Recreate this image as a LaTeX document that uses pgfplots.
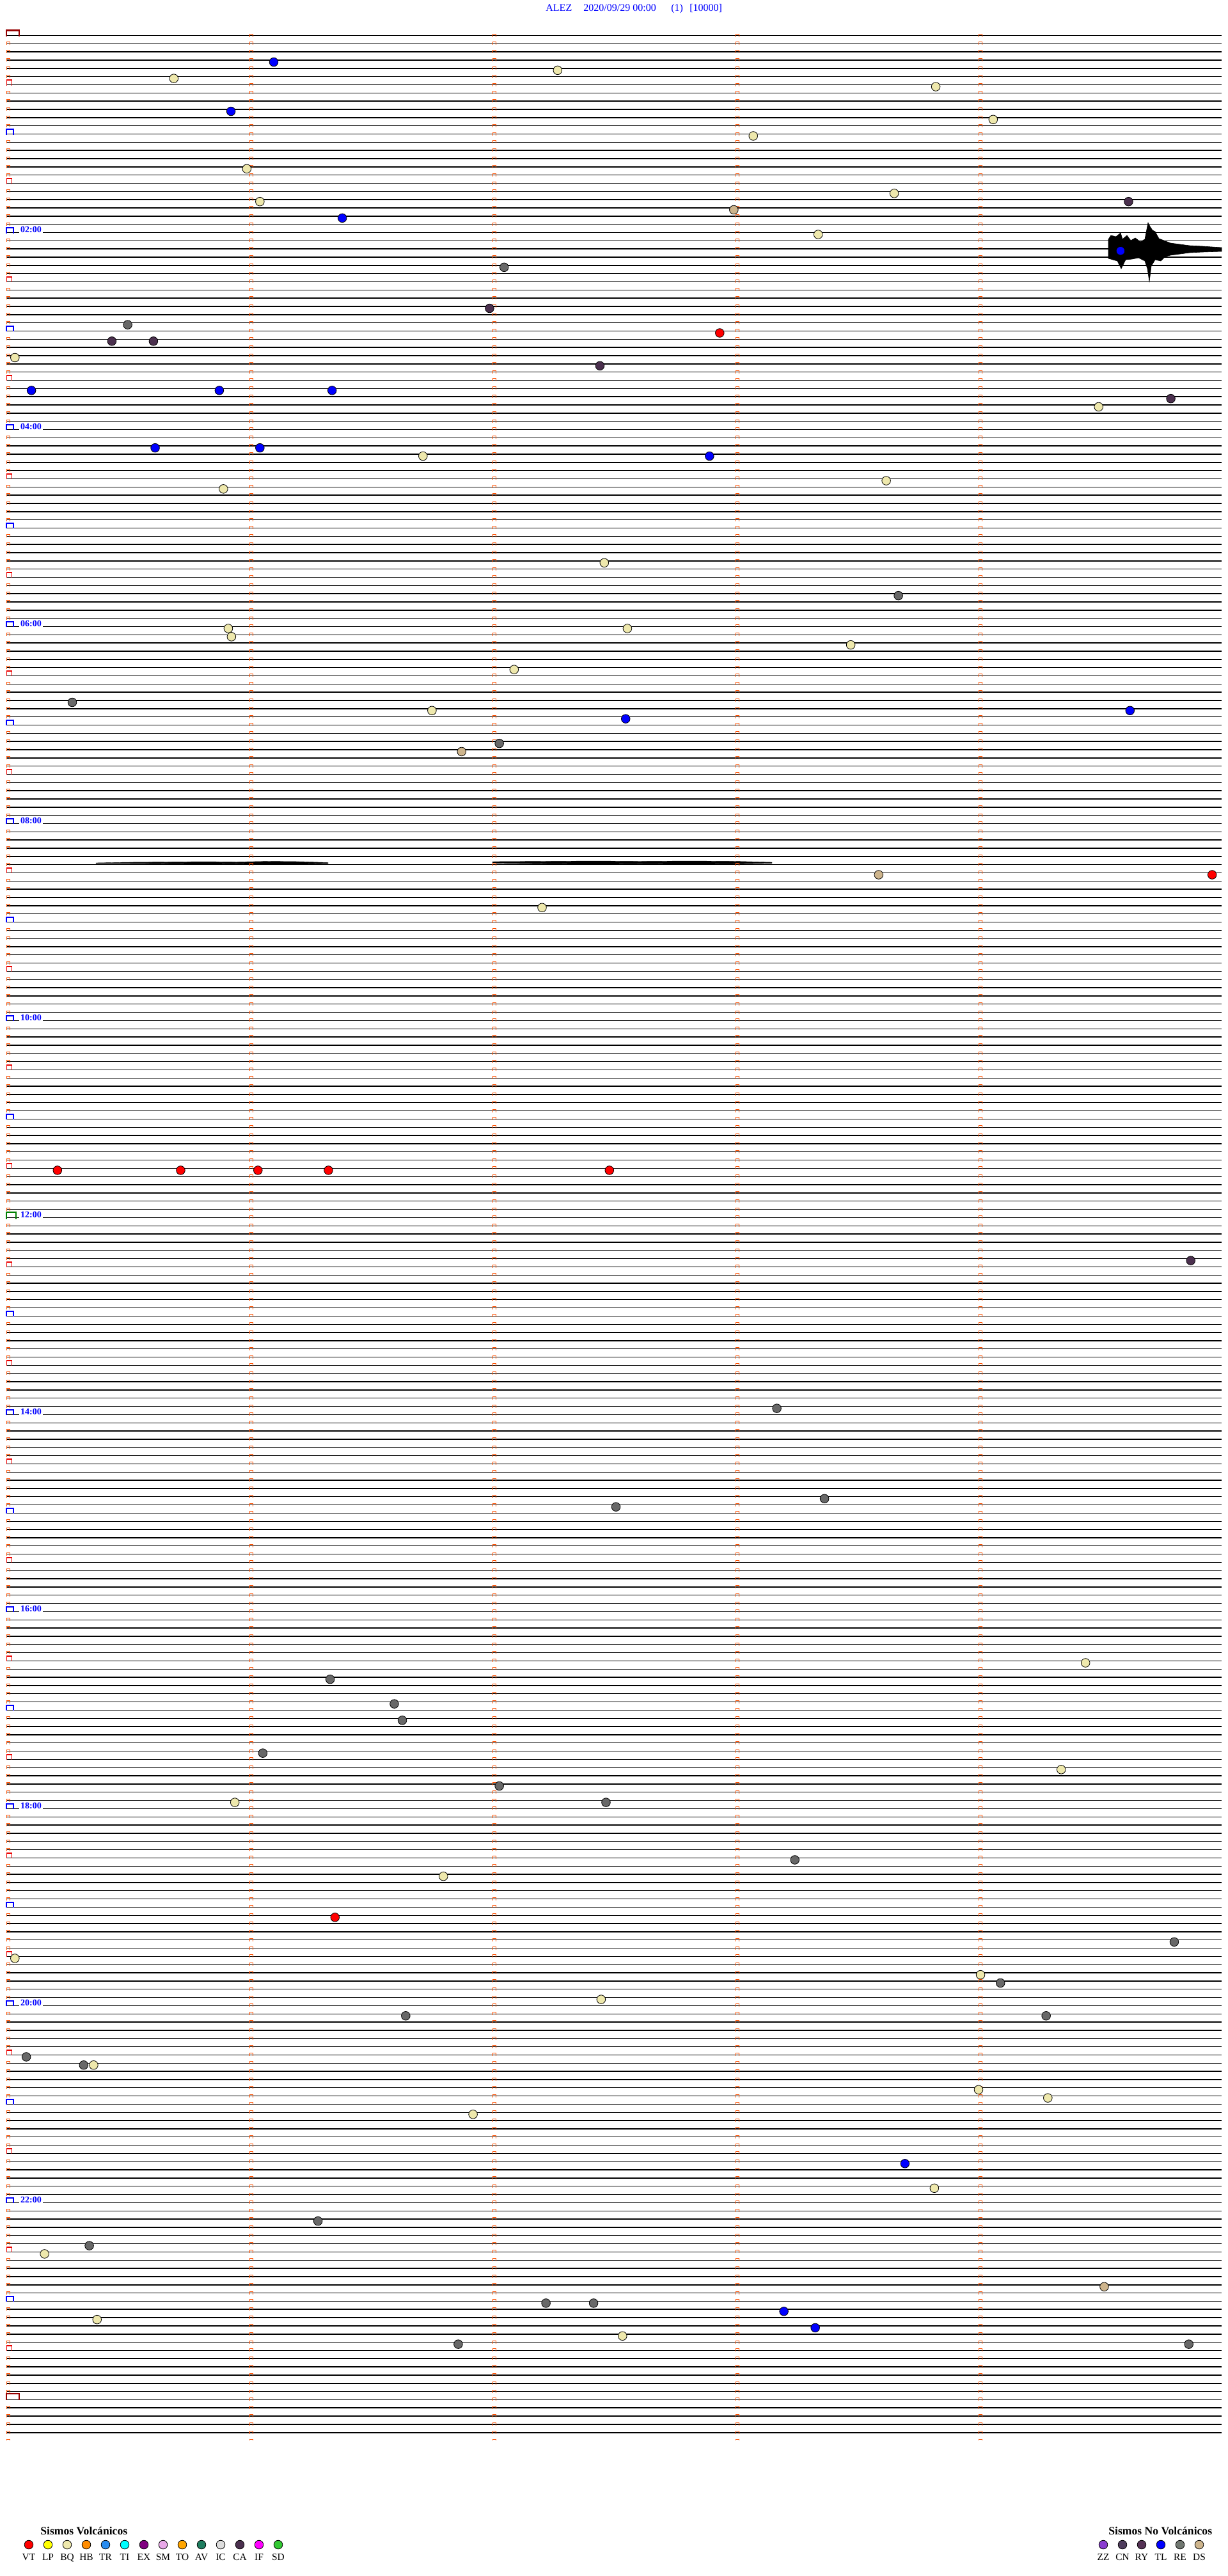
\documentclass[border=0pt]{standalone}
\usepackage{pgfplots}
\pgfplotsset{compat=1.18}
\usepackage{pgfplotstable}
\usepackage{fontspec}
\setmainfont{Liberation Serif}
\definecolor{cVT}{RGB}{255,0,0}
\definecolor{cLP}{RGB}{255,255,0}
\definecolor{cBQ}{RGB}{238,232,172}
\definecolor{cHB}{RGB}{255,140,0}
\definecolor{cTR}{RGB}{40,140,240}
\definecolor{cTI}{RGB}{0,255,255}
\definecolor{cEX}{RGB}{128,0,128}
\definecolor{cSM}{RGB}{232,168,232}
\definecolor{cTO}{RGB}{255,165,0}
\definecolor{cAV}{RGB}{30,125,95}
\definecolor{cIC}{RGB}{220,220,220}
\definecolor{cCA}{RGB}{75,48,78}
\definecolor{cIF}{RGB}{255,0,255}
\definecolor{cSD}{RGB}{50,200,50}
\definecolor{cZZ}{RGB}{138,60,208}
\definecolor{cCN}{RGB}{78,60,92}
\definecolor{cRY}{RGB}{85,50,85}
\definecolor{cTL}{RGB}{0,0,255}
\definecolor{cRE}{RGB}{112,118,112}
\definecolor{cREc}{RGB}{104,104,104}
\definecolor{cDS}{RGB}{205,180,140}
\definecolor{mk}{RGB}{255,80,0}
\definecolor{hr}{RGB}{0,0,255}
\definecolor{hh}{RGB}{235,0,0}
\definecolor{dd}{RGB}{150,0,0}
\definecolor{gg}{RGB}{0,128,0}

% events: m = minute within the 5-minute row, k = row (0 = 00:00, 12 rows per hour)
\pgfplotstableread{
m k
2.935 36
4.961 102
0.210 138
0.717 138
1.035 138
1.325 138
2.481 138
1.352 229
}\VT
\pgfplotstableread{
m k
2.268 4
0.689 5
3.824 6
4.060 10
3.073 12
0.989 16
3.653 19
1.043 20
3.340 24
0.035 39
4.494 45
1.714 51
3.620 54
0.893 55
2.460 64
2.555 72
0.913 72
0.926 73
3.474 74
2.089 77
1.751 82
2.204 106
4.440 198
4.340 211
0.940 215
1.798 224
0.035 234
4.008 236
2.447 239
0.359 247
4.000 250
4.285 251
1.920 253
3.818 262
0.157 270
0.373 278
2.535 280
}\BQ
\pgfplotstableread{
m k
1.100 3
0.924 9
1.382 22
4.584 26
0.103 43
0.876 43
1.340 43
0.612 50
1.043 50
2.893 51
4.623 82
2.548 83
3.697 259
3.199 277
3.328 279
}\TL
\pgfplotstableread{
m k
2.048 28
0.499 35
3.670 68
0.271 81
2.028 86
3.170 167
3.366 178
2.508 179
1.332 200
1.596 203
1.629 205
1.055 209
2.028 213
2.467 215
3.244 222
4.805 232
4.090 237
1.643 241
4.278 241
0.082 246
0.318 247
1.282 266
0.341 269
2.220 276
2.416 276
1.859 281
4.865 281
}\RE
\pgfplotstableread{
m k
4.617 20
1.988 33
0.434 37
0.605 37
2.442 40
4.791 44
4.873 149
}\CA
\pgfplotstableread{
m k
2.993 21
1.873 87
3.589 102
4.517 274
}\DS

% trace baselines (one per 5-minute row)
\def\traceN{}
\foreach \k in {0,...,107}{\pgfmathsetmacro\yy{55.5+12.833*\k}\xdef\traceN{\traceN (10,\yy) (1910,\yy) (1910,nan)}}
\foreach \k in {272,...,292}{\pgfmathsetmacro\yy{55.5+12.833*\k}\xdef\traceN{\traceN (10,\yy) (1910,\yy) (1910,nan)}}
\def\traceF{}
\foreach \k in {108,...,271}{\pgfmathsetmacro\yy{55.5+12.833*\k}\xdef\traceF{\traceF (10,\yy) (1910,\yy) (1910,nan)}}

\begin{document}
\begin{tikzpicture}
\begin{axis}[
  scale only axis, width=960pt, height=2013.5pt,
  xmin=0, xmax=1920, ymin=0, ymax=4027, y dir=reverse,
  axis lines=none, clip=false, unbounded coords=jump,
  every axis plot/.append style={forget plot},
  circ/.style={only marks, mark=*, mark size=3.4pt, mark options={draw=black, line width=0.4pt}},
]
\coordinate (BL) at (axis cs:0,4027);
\coordinate (TR) at (axis cs:1920,0);

% traces
\edef\cmd{\noexpand\addplot[black, line width=0.8pt] coordinates {\traceN};}\cmd
\edef\cmd{\noexpand\addplot[black, line width=0.65pt] coordinates {\traceF};}\cmd

% seismic event around 02:10
\addplot[black, fill=black, line width=0.3pt] coordinates {
(1733,374) (1737,368) (1745,370) (1752,364) (1755,374) (1762,368) (1768,376) (1775,372) (1783,378) (1790,374) (1795,348) (1798,354) (1802,360) (1806,362) (1812,373) (1820,376) (1830,380) (1845,382) (1860,384) (1880,385) (1910,387)
(1910,393) (1880,394) (1860,395) (1845,397) (1830,399) (1822,401) (1815,408) (1806,406) (1800,416) (1797,440) (1794,420) (1790,408) (1780,403) (1770,405) (1760,406) (1753,420) (1747,408) (1740,406) (1733,404)} --cycle;
% noisy segments on row 101
\addplot[black, fill=black, line width=0.2pt] coordinates {
(150,1349) (200,1348) (260,1347.5) (320,1347) (370,1347.5) (420,1346.5) (470,1347) (513,1348.5)
(513,1350) (470,1351) (420,1351.5) (370,1350.5) (320,1351) (260,1350.5) (200,1350) (150,1350)} --cycle;
\addplot[black, fill=black, line width=0.2pt] coordinates {
(770,1347) (850,1346.5) (930,1346) (1000,1346.5) (1080,1346) (1150,1346.5) (1207,1348)
(1207,1349.5) (1150,1350.5) (1080,1351) (1000,1350.5) (930,1351) (850,1350.5) (770,1349.5)} --cycle;

% minute markers (orange inverted U at each minute, every row)
\foreach \xx in {390.3,770.3,1150.3,1530.3}{
  \pgfmathsetmacro\xb{\xx+5}\pgfmathsetmacro\xc{\xx+2.5}
  \edef\cmd{\noexpand\draw[mk, line width=0.5pt, dash pattern=on 2.5pt off 3.9165pt] (axis cs:\xx,52.5) -- (axis cs:\xx,3815);
  \noexpand\draw[mk, line width=0.5pt, dash pattern=on 2.5pt off 3.9165pt] (axis cs:\xb,52.5) -- (axis cs:\xb,3815);
  \noexpand\draw[mk, line width=3pt, dash pattern=on 0.5pt off 5.9165pt] (axis cs:\xc,52.5) -- (axis cs:\xc,3815);}\cmd
}
% left column small markers (skipping the half-hour rows)
\draw[mk, line width=0.5pt, dash pattern=on 2.5pt off 3.9165pt on 2.5pt off 3.9165pt on 2.5pt off 3.9165pt on 2.5pt off 3.9165pt on 2.5pt off 10.333pt] (axis cs:10.3,65.333) -- (axis cs:10.3,3815);
\draw[mk, line width=0.5pt, dash pattern=on 2.5pt off 3.9165pt on 2.5pt off 3.9165pt on 2.5pt off 3.9165pt on 2.5pt off 3.9165pt on 2.5pt off 10.333pt] (axis cs:15.3,65.333) -- (axis cs:15.3,3815);
\draw[mk, line width=3pt, dash pattern=on 0.5pt off 5.9165pt on 0.5pt off 5.9165pt on 0.5pt off 5.9165pt on 0.5pt off 5.9165pt on 0.5pt off 12.333pt] (axis cs:12.8,65.333) -- (axis cs:12.8,3815);

% half-hour brackets
\foreach \r in {6,18,...,282}{
  \pgfmathsetmacro\ya{55.5+12.833*\r+1}\pgfmathsetmacro\yb{55.5+12.833*\r-7.5}
  \edef\cmd{\noexpand\draw[hh, line width=0.7pt] (axis cs:10.3,\ya) -- (axis cs:10.3,\yb) -- (axis cs:18.7,\yb) -- (axis cs:18.7,\ya);}\cmd
}
% hour brackets
\foreach \r in {12,24,...,132,156,168,...,276}{
  \pgfmathsetmacro\ya{55.5+12.833*\r+1}\pgfmathsetmacro\yb{55.5+12.833*\r-7.5}
  \edef\cmd{\noexpand\draw[hr, line width=1pt] (axis cs:10,\ya) -- (axis cs:10,\yb) -- (axis cs:20.5,\yb) -- (axis cs:20.5,\ya);}\cmd
}
\draw[gg, line width=1pt] (axis cs:10,1906) -- (axis cs:10,1895) -- (axis cs:24.5,1895) -- (axis cs:24.5,1906);
\draw[dd, line width=1.3pt] (axis cs:10,57) -- (axis cs:10,47.5) -- (axis cs:30,47.5) -- (axis cs:30,57);
\draw[dd, line width=1.3pt] (axis cs:10,3752) -- (axis cs:10,3742) -- (axis cs:30,3742) -- (axis cs:30,3752);

% hour labels
\foreach \y/\t in {363.5/02:00,671.5/04:00,979.5/06:00,1287.5/08:00,1595.5/10:00,1903.5/12:00,2211.4/14:00,2519.4/16:00,2827.4/18:00,3135.4/20:00,3443.4/22:00}{
  \edef\cmd{\noexpand\node[anchor=base west, fill=white, inner xsep=1pt, inner ysep=0.6pt, text=hr, font=\noexpand\fontsize{7}{8}\noexpand\selectfont\noexpand\bfseries] at (axis cs:29.7,\y) {\t};}\cmd
}

% events
\addplot[circ, mark options={fill=cBQ}] table[x expr=10+380*\thisrow{m}, y expr=58.5+12.833*\thisrow{k}] {\BQ};
\addplot[circ, mark options={fill=cREc}] table[x expr=10+380*\thisrow{m}, y expr=58.5+12.833*\thisrow{k}] {\RE};
\addplot[circ, mark options={fill=cCA}] table[x expr=10+380*\thisrow{m}, y expr=58.5+12.833*\thisrow{k}] {\CA};
\addplot[circ, mark options={fill=cDS}] table[x expr=10+380*\thisrow{m}, y expr=58.5+12.833*\thisrow{k}] {\DS};
\addplot[circ, mark options={fill=cTL}] table[x expr=10+380*\thisrow{m}, y expr=58.5+12.833*\thisrow{k}] {\TL};
\addplot[circ, mark options={fill=cVT}] table[x expr=10+380*\thisrow{m}, y expr=58.5+12.833*\thisrow{k}] {\VT};

% title
\node[anchor=base west, inner sep=0pt, text=hr, font=\fontsize{8}{9}\selectfont] at (axis cs:853,17.5) {ALEZ};
\node[anchor=base west, inner sep=0pt, text=hr, font=\fontsize{8}{9}\selectfont] at (axis cs:912,17.5) {2020/09/29 00:00};
\node[anchor=base west, inner sep=0pt, text=hr, font=\fontsize{8}{9}\selectfont] at (axis cs:1049,17.5) {(1)};
\node[anchor=base west, inner sep=0pt, text=hr, font=\fontsize{8}{9}\selectfont] at (axis cs:1078,17.5) {[10000]};

% legends
\node[anchor=base west, inner sep=0pt, font=\fontsize{8.8}{10}\selectfont\bfseries] at (axis cs:63,3962.3) {Sismos Volcánicos};
\node[anchor=base west, inner sep=0pt, font=\fontsize{8.8}{10}\selectfont\bfseries] at (axis cs:1733,3962.3) {Sismos No Volcánicos};
\addplot[circ, mark options={fill=cVT}] coordinates {(45,3978)};
\addplot[circ, mark options={fill=cLP}] coordinates {(75,3978)};
\addplot[circ, mark options={fill=cBQ}] coordinates {(105,3978)};
\addplot[circ, mark options={fill=cHB}] coordinates {(135,3978)};
\addplot[circ, mark options={fill=cTR}] coordinates {(165,3978)};
\addplot[circ, mark options={fill=cTI}] coordinates {(195,3978)};
\addplot[circ, mark options={fill=cEX}] coordinates {(225,3978)};
\addplot[circ, mark options={fill=cSM}] coordinates {(255,3978)};
\addplot[circ, mark options={fill=cTO}] coordinates {(285,3978)};
\addplot[circ, mark options={fill=cAV}] coordinates {(315,3978)};
\addplot[circ, mark options={fill=cIC}] coordinates {(345,3978)};
\addplot[circ, mark options={fill=cCA}] coordinates {(375,3978)};
\addplot[circ, mark options={fill=cIF}] coordinates {(405,3978)};
\addplot[circ, mark options={fill=cSD}] coordinates {(435,3978)};
\addplot[circ, mark options={fill=cZZ}] coordinates {(1725,3978)};
\addplot[circ, mark options={fill=cCN}] coordinates {(1755,3978)};
\addplot[circ, mark options={fill=cRY}] coordinates {(1785,3978)};
\addplot[circ, mark options={fill=cTL}] coordinates {(1815,3978)};
\addplot[circ, mark options={fill=cRE}] coordinates {(1845,3978)};
\addplot[circ, mark options={fill=cDS}] coordinates {(1875,3978)};
\foreach \x/\t in {45/VT,75/LP,105/BQ,135/HB,165/TR,195/TI,225/EX,255/SM,285/TO,315/AV,345/IC,375/CA,405/IF,435/SD,1725/ZZ,1755/CN,1785/RY,1815/TL,1845/RE,1875/DS}{
  \edef\cmd{\noexpand\node[anchor=base, inner sep=0pt, font=\noexpand\fontsize{7.7}{9}\noexpand\selectfont] at (axis cs:\x,4002.3) {\t};}\cmd
}
\end{axis}
\pgfresetboundingbox
\path (BL) rectangle (TR);
\end{tikzpicture}
\end{document}
